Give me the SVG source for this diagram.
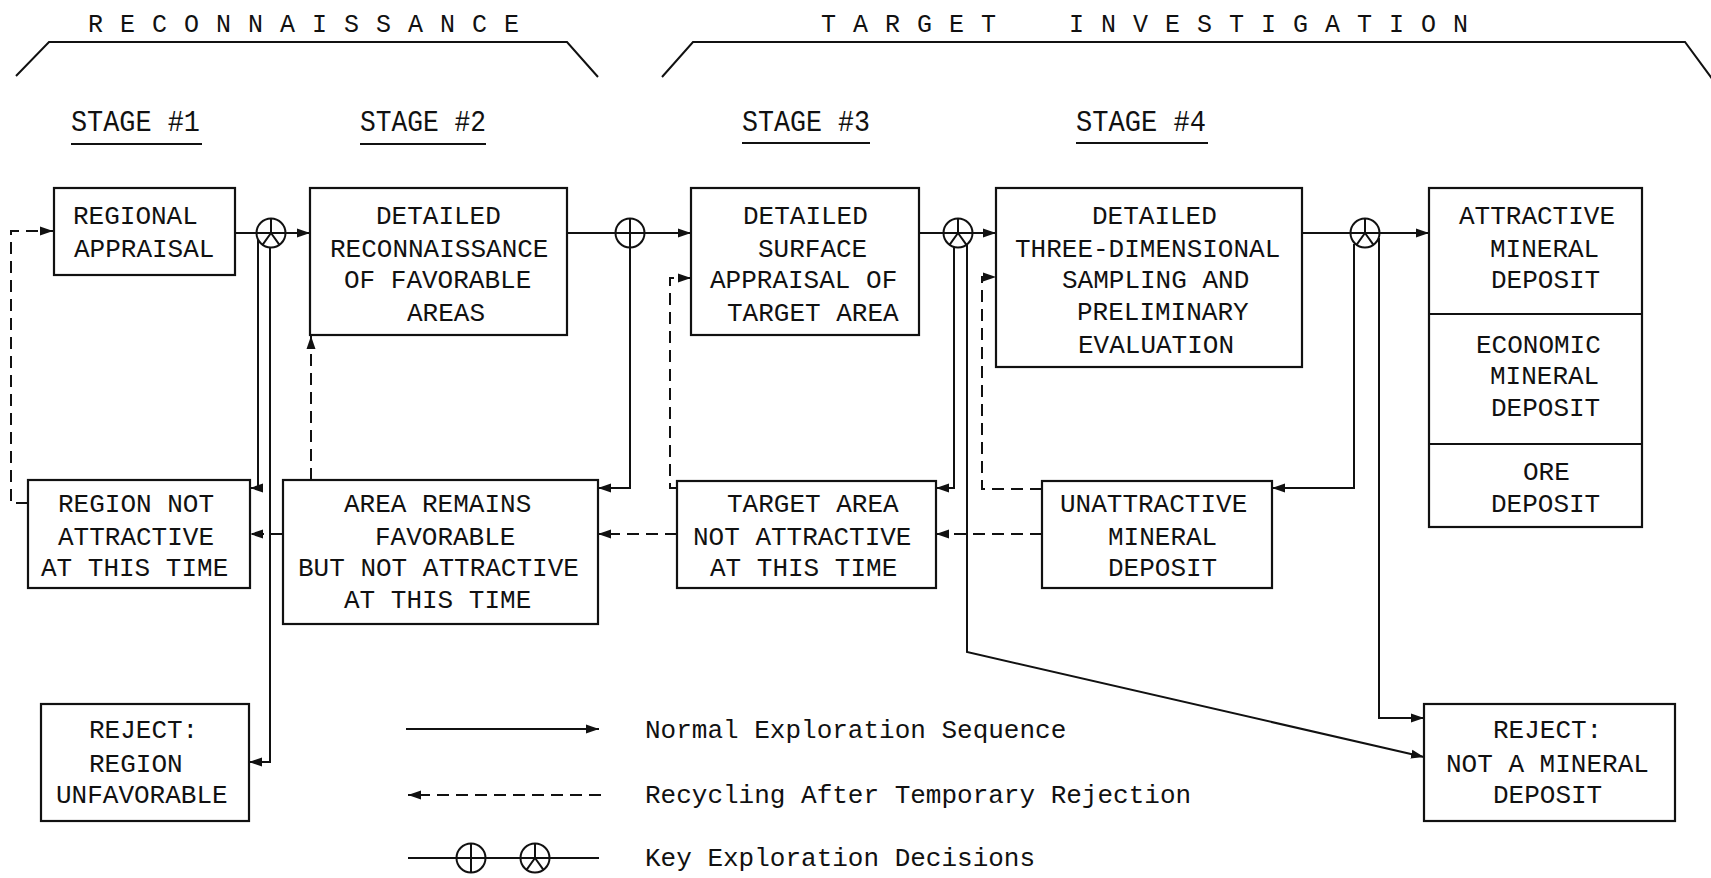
<svg xmlns="http://www.w3.org/2000/svg" width="1711" height="878" viewBox="0 0 1711 878">
<style>
text{font-family:"Liberation Mono","DejaVu Sans Mono",monospace;font-size:26px;fill:#111}
.hdr{font-size:25px;letter-spacing:17px}
.stg{font-size:29px}
.box{fill:none;stroke:#111;stroke-width:2.2}
.ln{fill:none;stroke:#111;stroke-width:2}
.dash{fill:none;stroke:#111;stroke-width:2;stroke-dasharray:12 7}
.sym{fill:none;stroke:#111;stroke-width:2}
</style>
<defs>
<marker id="ah" markerUnits="userSpaceOnUse" markerWidth="14" markerHeight="10" refX="13" refY="5" orient="auto">
<path d="M0,0.5 L13,5 L0,9.5 z" fill="#111"/>
</marker>
<g id="peace"><circle r="14.5" class="sym"/><path class="sym" d="M0,-14.5 V0 M0,0 L-8.5,11.8 M0,0 L8.5,11.8"/></g>
<g id="plus"><circle r="14.5" class="sym"/><path class="sym" d="M0,-14.5 V14.5"/></g>
</defs>

<g id="headers">
<text class="hdr" x="88" y="32">RECONNAISSANCE</text>
<polyline class="ln" points="16,76 49,42 567,42 598,77"/>
<text class="hdr" x="821" y="32">TARGET</text>
<text class="hdr" x="1069" y="32">INVESTIGATION</text>
<polyline class="ln" points="662,77 693,42 1685,42 1716,84"/>
</g>

<g id="stages">
<text class="stg" x="71" y="131" textLength="129" lengthAdjust="spacingAndGlyphs">STAGE #1</text>
<line class="ln" x1="71" y1="144" x2="202" y2="144"/>
<text class="stg" x="360" y="131" textLength="126" lengthAdjust="spacingAndGlyphs">STAGE #2</text>
<line class="ln" x1="360" y1="144" x2="486" y2="144"/>
<text class="stg" x="742" y="131" textLength="128" lengthAdjust="spacingAndGlyphs">STAGE #3</text>
<line class="ln" x1="742" y1="143" x2="870" y2="143"/>
<text class="stg" x="1076" y="131" textLength="130" lengthAdjust="spacingAndGlyphs">STAGE #4</text>
<line class="ln" x1="1076" y1="143" x2="1208" y2="143"/>
</g>

<g id="connectors">
<!-- main flow -->
<line class="ln" x1="235" y1="233" x2="310" y2="233" marker-end="url(#ah)"/>
<line class="ln" x1="567" y1="233" x2="691" y2="233" marker-end="url(#ah)"/>
<line class="ln" x1="919" y1="233" x2="996" y2="233" marker-end="url(#ah)"/>
<line class="ln" x1="1302" y1="233" x2="1429" y2="233" marker-end="url(#ah)"/>
<!-- decision branches -->
<polyline class="ln" points="258,240 258,488 250,488" marker-end="url(#ah)"/>
<polyline class="ln" points="270,247 270,762 249,762" marker-end="url(#ah)"/>
<polyline class="ln" points="630,247 630,488 598,488" marker-end="url(#ah)"/>
<polyline class="ln" points="954,247 954,488 936,488" marker-end="url(#ah)"/>
<polyline class="ln" points="967,245 967,652 1424,757" marker-end="url(#ah)"/>
<polyline class="ln" points="1354,244 1354,488 1272,488" marker-end="url(#ah)"/>
<polyline class="ln" points="1379,238 1379,718 1424,718" marker-end="url(#ah)"/>
<!-- recycling -->
<polyline class="dash" points="28,503 11,503 11,231 53,231" marker-end="url(#ah)"/>
<polyline class="dash" points="311,480 311,336" marker-end="url(#ah)"/>
<line class="dash" x1="283" y1="534" x2="250" y2="534" marker-end="url(#ah)"/>
<polyline class="dash" points="677,488 670,488 670,278 691,278" marker-end="url(#ah)"/>
<line class="dash" x1="677" y1="534" x2="598" y2="534" marker-end="url(#ah)"/>
<polyline class="dash" points="1042,489 982,489 982,277 996,277" marker-end="url(#ah)"/>
<line class="dash" x1="1042" y1="534" x2="936" y2="534" marker-end="url(#ah)"/>
<!-- decision symbols -->
<use href="#peace" x="271" y="233"/>
<use href="#plus" x="630" y="233"/>
<use href="#peace" x="958" y="233"/>
<use href="#peace" x="1365" y="233"/>
</g>

<g id="regional-appraisal">
<rect class="box" x="54" y="188" width="181" height="87"/>
<text x="73" y="224">REGIONAL</text>
<text x="74" y="257">APPRAISAL</text>
</g>

<g id="detailed-reconnaissance">
<rect class="box" x="310" y="188" width="257" height="147"/>
<text x="376" y="224">DETAILED</text>
<text x="330" y="257">RECONNAISSANCE</text>
<text x="344" y="288">OF FAVORABLE</text>
<text x="407" y="321">AREAS</text>
</g>

<g id="detailed-surface">
<rect class="box" x="691" y="188" width="228" height="147"/>
<text x="743" y="224">DETAILED</text>
<text x="758" y="257">SURFACE</text>
<text x="710" y="288">APPRAISAL OF</text>
<text x="727" y="321">TARGET AREA</text>
</g>

<g id="three-dimensional">
<rect class="box" x="996" y="188" width="306" height="179"/>
<text x="1092" y="224">DETAILED</text>
<text x="1015" y="257">THREE-DIMENSIONAL</text>
<text x="1062" y="288">SAMPLING AND</text>
<text x="1077" y="320">PRELIMINARY</text>
<text x="1078" y="353">EVALUATION</text>
</g>

<g id="deposit-classes">
<rect class="box" x="1429" y="188" width="213" height="339"/>
<line class="box" x1="1429" y1="314" x2="1642" y2="314"/>
<line class="box" x1="1429" y1="444" x2="1642" y2="444"/>
<text x="1459" y="224">ATTRACTIVE</text>
<text x="1490" y="257">MINERAL</text>
<text x="1491" y="288">DEPOSIT</text>
<text x="1476" y="353">ECONOMIC</text>
<text x="1490" y="384">MINERAL</text>
<text x="1491" y="416">DEPOSIT</text>
<text x="1523" y="480">ORE</text>
<text x="1491" y="512">DEPOSIT</text>
</g>

<g id="region-not-attractive">
<rect class="box" x="28" y="480" width="222" height="108"/>
<text x="58" y="512">REGION NOT</text>
<text x="58" y="545">ATTRACTIVE</text>
<text x="41" y="576">AT THIS TIME</text>
</g>

<g id="area-remains">
<rect class="box" x="283" y="480" width="315" height="144"/>
<text x="344" y="512">AREA REMAINS</text>
<text x="375" y="545">FAVORABLE</text>
<text x="298" y="576">BUT NOT ATTRACTIVE</text>
<text x="344" y="608">AT THIS TIME</text>
</g>

<g id="target-not-attractive">
<rect class="box" x="677" y="481" width="259" height="107"/>
<text x="727" y="512">TARGET AREA</text>
<text x="693" y="545">NOT ATTRACTIVE</text>
<text x="710" y="576">AT THIS TIME</text>
</g>

<g id="unattractive">
<rect class="box" x="1042" y="481" width="230" height="107"/>
<text x="1060" y="512">UNATTRACTIVE</text>
<text x="1108" y="545">MINERAL</text>
<text x="1108" y="576">DEPOSIT</text>
</g>

<g id="reject-region">
<rect class="box" x="41" y="704" width="208" height="117"/>
<text x="89" y="738">REJECT:</text>
<text x="89" y="772">REGION</text>
<text x="56" y="803">UNFAVORABLE</text>
</g>

<g id="reject-mineral">
<rect class="box" x="1424" y="704" width="251" height="117"/>
<text x="1493" y="738">REJECT:</text>
<text x="1446" y="772">NOT A MINERAL</text>
<text x="1493" y="803">DEPOSIT</text>
</g>

<g id="legend">
<line class="ln" x1="406" y1="729" x2="599" y2="729" marker-end="url(#ah)"/>
<line class="dash" x1="601" y1="795" x2="408" y2="795" marker-end="url(#ah)"/>
<line class="ln" x1="408" y1="858" x2="599" y2="858"/>
<use href="#plus" x="471" y="858"/>
<use href="#peace" x="535" y="858"/>
<text x="645" y="738">Normal Exploration Sequence</text>
<text x="645" y="803">Recycling After Temporary Rejection</text>
<text x="645" y="866">Key Exploration Decisions</text>
</g>
</svg>
